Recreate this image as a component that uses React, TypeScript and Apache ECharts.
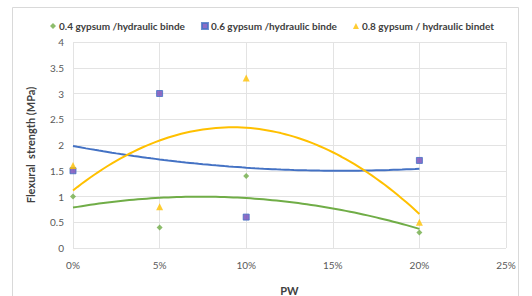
import React, { useEffect, useRef } from "react";
import * as echarts from "echarts";

const pwPercent = [0, 5, 10, 20];
const gypsum04 = [1.0, 0.4, 1.4, 0.3];
const gypsum06 = [1.5, 3.0, 0.6, 1.7];
const gypsum08 = [1.6, 0.8, 3.3, 0.5];
const seriesNames = [
  "0.4 gypsum /hydraulic binde",
  "0.6 gypsum /hydraulic binde",
  "0.8 gypsum / hydraulic bindet",
];
const colors = ["#70AD47", "#4472C4", "#FFC000"];

// Excel-style 2nd order polynomial trendline (least squares) from the data
function polyFit2(xs: number[], ys: number[]) {
  let s0 = 0, s1 = 0, s2 = 0, s3 = 0, s4 = 0, t0 = 0, t1 = 0, t2 = 0;
  xs.forEach((x, i) => {
    const y = ys[i];
    s0 += 1; s1 += x; s2 += x * x; s3 += x ** 3; s4 += x ** 4;
    t0 += y; t1 += x * y; t2 += x * x * y;
  });
  const M = [
    [s0, s1, s2, t0],
    [s1, s2, s3, t1],
    [s2, s3, s4, t2],
  ];
  for (let i = 0; i < 3; i++) {
    for (let k = i + 1; k < 3; k++) {
      const f = M[k][i] / M[i][i];
      for (let j = i; j < 4; j++) M[k][j] -= f * M[i][j];
    }
  }
  const c = [0, 0, 0];
  for (let i = 2; i >= 0; i--) {
    let s = M[i][3];
    for (let j = i + 1; j < 3; j++) s -= M[i][j] * c[j];
    c[i] = s / M[i][i];
  }
  return (x: number) => c[0] + c[1] * x + c[2] * x * x;
}

function trend(ys: number[]) {
  const f = polyFit2(pwPercent, ys);
  const out: number[][] = [];
  const lo = pwPercent[0];
  const hi = pwPercent[pwPercent.length - 1];
  for (let x = lo; x <= hi + 1e-9; x += 0.25) out.push([x, f(x)]);
  return out;
}

export default function App() {
  const ref = useRef<HTMLDivElement>(null);
  useEffect(() => {
    const chart = echarts.init(ref.current!, null, { renderer: "svg" });
    const font = "Lato, 'Open Sans', sans-serif";
    const all = [gypsum04, gypsum06, gypsum08];
    const symbols = ["diamond", "rect", "triangle"];
    const symSizes = [6, 6, 7];
    const fills = ["#70AD47", "#7048B8", "#FFC000"];
    const series: any[] = [];
    all.forEach((ys, i) => {
      series.push({
        name: seriesNames[i] + " trend",
        type: "line",
        data: trend(ys),
        showSymbol: false,
        symbol: "none",
        lineStyle: { color: colors[i], width: 2 },
        z: 2,
        silent: true,
      });
    });
    all.forEach((ys, i) => {
      series.push({
        name: seriesNames[i],
        type: "scatter",
        data: pwPercent.map((x, j) => [x, ys[j]]),
        symbol: symbols[i],
        symbolSize: symSizes[i],
        itemStyle: {
          color: fills[i],
          borderColor: colors[i],
          borderWidth: i === 1 ? 1 : 0,
        },
        z: 3,
      });
    });
    chart.setOption({
      animation: false,
      backgroundColor: "#ffffff",
      graphic: [
        {
          type: "rect",
          shape: { x: 12.5, y: 7.5, width: 506, height: 300 },
          style: { fill: "none", stroke: "#D9D9D9", lineWidth: 1 },
          z: -1,
        },
      ],
      legend: {
        data: seriesNames.map((n, i) => ({ name: n, icon: ["diamond", "rect", "triangle"][i] })),
        top: 16,
        left: 45,
        itemWidth: 6,
        itemHeight: 6,
        itemGap: 16,
        textStyle: { fontFamily: font, fontSize: 10, color: "#404040", fontWeight: "bold", padding: [0, 0, 0, -2] },
      },
      grid: {
        left: 73,
        right: 26,
        top: 42,
        bottom: 48,
        containLabel: false,
        outerBoundsMode: "none",
      },
      xAxis: {
        type: "value",
        min: 0,
        max: 25,
        interval: 5,
        name: "PW",
        nameLocation: "middle",
        nameGap: 37,
        nameTextStyle: { fontFamily: font, fontSize: 11, fontWeight: "bold", color: "#404040" },
        axisLine: { show: false },
        axisTick: { show: false },
        axisLabel: {
          formatter: (v: number) => v + "%",
          fontFamily: font,
          fontSize: 10,
          color: "#595959",
          margin: 12,
        },
        splitLine: { show: true, lineStyle: { color: "#E3E3E3" } },
      },
      yAxis: {
        type: "value",
        min: 0,
        max: 4,
        interval: 0.5,
        name: "Flexural  strength (MPa)",
        nameLocation: "middle",
        nameGap: 37,
        nameRotate: 90,
        nameTextStyle: { fontFamily: font, fontSize: 11, fontWeight: "bold", color: "#404040" },
        axisLine: { show: false },
        axisTick: { show: false },
        axisLabel: { fontFamily: font, fontSize: 10, color: "#595959", margin: 9 },
        splitLine: { show: true, lineStyle: { color: "#E3E3E3" } },
      },
      series,
    });
    return () => chart.dispose();
  }, []);
  return (
    <div
      ref={ref}
      style={{ position: "fixed", left: 0, top: 0, width: 532, height: 296 }}
    />
  );
}
